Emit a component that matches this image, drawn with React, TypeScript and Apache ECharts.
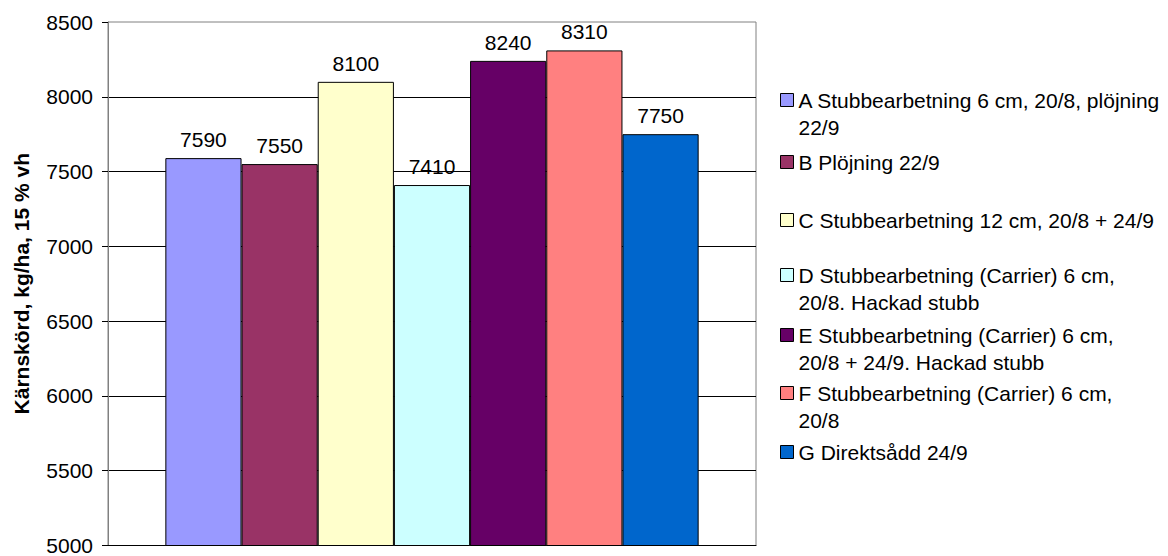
import React, { useEffect, useRef } from "react";
import * as echarts from "echarts";

const seriesNames = [
  "A Stubbearbetning 6 cm, 20/8, plöjning\n22/9",
  "B Plöjning 22/9",
  "C Stubbearbetning 12 cm, 20/8 + 24/9",
  "D Stubbearbetning (Carrier) 6 cm,\n20/8. Hackad stubb",
  "E Stubbearbetning (Carrier) 6 cm,\n20/8 + 24/9. Hackad stubb",
  "F Stubbearbetning (Carrier) 6 cm,\n20/8",
  "G Direktsådd 24/9",
];
const seriesValues = [7590, 7550, 8100, 7410, 8240, 8310, 7750];
const seriesColors = ["#9999FF", "#993366", "#FFFFCC", "#CCFFFF", "#660066", "#FF8080", "#0066CC"];
const legendCenters = [100, 162, 220, 275, 335, 393, 452];
const category = [""];
const yAxisTitle = "Kärnskörd, kg/ha, 15 % vh";

const FONT = "'Liberation Sans', Arial, sans-serif";

export default function App() {
  const ref = useRef<HTMLDivElement>(null);
  useEffect(() => {
    document.body.style.margin = "0";
    const chart = echarts.init(ref.current!, null, { renderer: "svg" });
    const series = seriesNames.map((name, i) => ({
      name,
      type: "bar",
      data: [seriesValues[i]],
      barGap: "0%",
      barCategoryGap: "17.7%",
      itemStyle: { color: seriesColors[i], borderColor: "#000", borderWidth: 1 },
      label: {
        show: true,
        position: "top",
        distance: 8,
        color: "#000",
        fontSize: 21,
        fontFamily: FONT,
      },
    }));
    const legends = seriesNames.map((name, i) => {
      const twoLine = name.includes("\n");
      return {
        data: [{ name, icon: "rect", itemStyle: { borderColor: "#000", borderWidth: 1 } }],
        left: 780,
        top: legendCenters[i] - (twoLine ? 40.5 : 13.5),
        padding: 0,
        itemWidth: 13,
        itemHeight: 13,
        selectedMode: false,
        formatter: (n: string) => (n.includes("\n") ? " \n" + n : n),
        textStyle: {
          color: "#000",
          fontSize: 21,
          fontFamily: FONT,
          lineHeight: 27,
        },
      };
    });
    chart.setOption({
      animation: false,
      backgroundColor: "#fff",
      grid: {
        left: 108,
        right: 412,
        top: 22,
        bottom: 7,
        show: true,
        borderColor: "#808080",
        borderWidth: 1,
      },
      legend: legends,
      xAxis: {
        type: "category",
        data: category,
        axisLine: { lineStyle: { color: "#000", width: 1 } },
        axisTick: { show: false },
        axisLabel: { show: false },
      },
      yAxis: {
        type: "value",
        min: 5000,
        max: 8500,
        interval: 500,
        name: yAxisTitle,
        nameLocation: "middle",
        nameGap: 76,
        nameTextStyle: { fontSize: 21, fontWeight: "bold", fontFamily: FONT, color: "#000" },
        axisLine: { show: true, lineStyle: { color: "#808080", width: 1 } },
        axisTick: { show: true, length: 6, lineStyle: { color: "#000" } },
        axisLabel: {
          fontSize: 21,
          fontFamily: FONT,
          color: "#000",
          margin: 15,
          formatter: (v: number) => String(v),
        },
        splitLine: { show: true, showMinLine: false, showMaxLine: false, lineStyle: { color: "#000", width: 1 } },
      },
      series,
    });
    return () => chart.dispose();
  }, []);
  return <div ref={ref} style={{ width: 1168, height: 556 }} />;
}
